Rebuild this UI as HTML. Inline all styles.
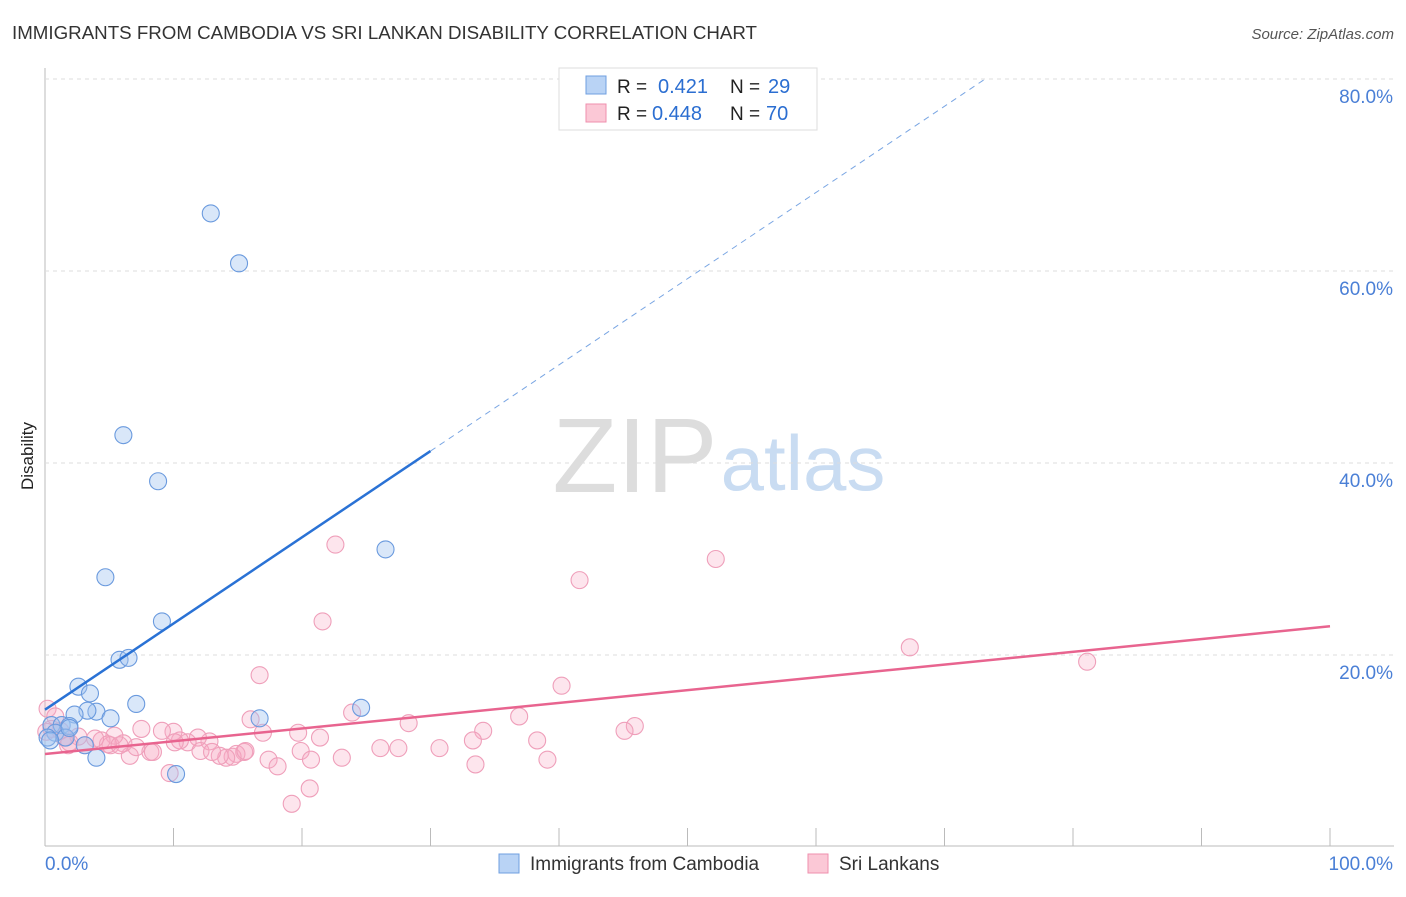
<!DOCTYPE html>
<html><head><meta charset="utf-8"><style>
body{margin:0;background:#fff;font-family:"Liberation Sans",sans-serif}
svg text{font-family:"Liberation Sans",sans-serif}
</style></head><body>
<svg id="c" width="1406" height="892">
<text x="12" y="39" font-size="18" fill="#333" textLength="745" lengthAdjust="spacingAndGlyphs">IMMIGRANTS FROM CAMBODIA VS SRI LANKAN DISABILITY CORRELATION CHART</text>
<text x="1394" y="39" font-size="15" fill="#555" font-style="italic" text-anchor="end">Source: ZipAtlas.com</text>
<text x="33" y="456" font-size="17" fill="#222" transform="rotate(-90 33 456)" text-anchor="middle">Disability</text>
<g><text x="635" y="492" font-size="106" fill="#ddd" font-family="Liberation Serif" text-anchor="middle">ZIP</text><text x="803" y="490" font-size="78" fill="#c9dcf2" text-anchor="middle">atlas</text></g>
<g id="grid"></g><g id="marks"></g>
<g>
<rect x="559" y="68" width="258" height="62" fill="#fff" stroke="#ddd"/>
<rect x="586" y="76" width="20" height="18" fill="#b9d3f5" stroke="#6f9fe0"/>
<rect x="586" y="104" width="20" height="18" fill="#fbc8d6" stroke="#ef8fae"/>
<text x="617" y="93" font-size="19" fill="#222">R =</text><text x="658" y="93" font-size="20" fill="#2b6ed1">0.421</text>
<text x="730" y="93" font-size="19" fill="#222">N =</text><text x="768" y="93" font-size="20" fill="#2b6ed1">29</text>
<text x="617" y="120" font-size="19" fill="#222">R =</text><text x="652" y="120" font-size="20" fill="#2b6ed1">0.448</text>
<text x="730" y="120" font-size="19" fill="#222">N =</text><text x="766" y="120" font-size="20" fill="#2b6ed1">70</text>
</g>
<g>
<rect x="499" y="854" width="20" height="19" fill="#b9d3f5" stroke="#6f9fe0"/>
<text x="530" y="870" font-size="19" fill="#333">Immigrants from Cambodia</text>
<rect x="808" y="854" width="20" height="19" fill="#fbc8d6" stroke="#ef8fae"/>
<text x="839" y="870" font-size="19" fill="#333">Sri Lankans</text>
</g>
</svg>
<script>
const yTicks=[20,40,60,80];
const yTickLabels=["20.0%","40.0%","60.0%","80.0%"];
const xTickLabels=["0.0%","100.0%"];
const blueX=[12.9,15.1,6.1,8.8,4.7,26.5,9.1,5.8,6.5,2.6,3.5,7.1,4.0,3.3,5.1,2.3,16.7,24.6,0.5,1.3,1.9,0.8,1.6,0.2,3.1,4.0,10.2,0.4,1.9];
const blueY=[66,60.8,42.9,38.1,28.1,31,23.5,19.5,19.7,16.7,16.0,14.9,14.1,14.2,13.4,13.8,13.4,14.5,12.7,12.7,12.6,11.9,11.4,11.4,10.6,9.3,7.6,11.1,12.4];
const pinkX=[22.6,52.2,41.6,21.6,67.3,81.1,16.7,40.2,23.9,36.9,28.3,45.9,45.1,34.1,33.3,38.3,27.5,26.1,30.7,16.96,16.0,19.7,21.4,23.1,19.9,20.7,17.4,18.1,39.1,33.5,20.6,19.2,9.7,15.5,14.9,14.6,14.1,13.6,12.8,11.9,11.1,10.5,10.0,9.1,7.5,8.2,8.4,6.6,6.1,5.4,5.1,4.4,4.9,3.9,3.1,2.6,1.9,1.2,0.5,0.2,0.8,0.1,1.5,1.8,5.8,12.1,13.0,10.1,7.1,15.6];
const pinkY=[31.5,30,27.8,23.5,20.8,19.3,17.9,16.8,14.0,13.6,12.9,12.6,12.1,12.1,11.1,11.1,10.3,10.3,10.3,11.9,13.3,11.9,11.4,9.3,10.0,9.1,9.1,8.4,9.1,8.6,6.1,4.5,7.7,9.9,9.7,9.4,9.3,9.5,11.0,11.4,10.9,11.1,12.0,12.1,12.3,9.9,9.9,9.5,10.8,11.6,10.6,11.1,10.7,11.3,10.6,11.5,10.9,12.1,12.3,14.4,13.6,12.0,11.4,10.6,10.6,10.0,9.9,10.9,10.4,10.0];
const blueLine=[14.3,0.898]; // intercept, slope
const pinkLine=[9.69,0.133];
const X=v=>45+v*12.85, Y=v=>847-v*9.6;
const NS="http://www.w3.org/2000/svg";
function mk(t,a,p){const e=document.createElementNS(NS,t);for(const k in a)e.setAttribute(k,a[k]);p.appendChild(e);return e;}
const g=document.getElementById('grid'), m=document.getElementById('marks');
const ax=mk('line',{x1:45,y1:68,x2:45,y2:846,stroke:'#bbb'},g);


const bx=mk('line',{x1:45,y1:846,x2:1394,y2:846,stroke:'#bbb'},g);


yTicks.forEach((t,i)=>{
 const l=mk('line',{x1:45,y1:Y(t),x2:1394,y2:Y(t),stroke:'#ddd','stroke-dasharray':'4,4'},g);
 
 
 const tx=mk('text',{x:1393,y:Y(t)+24,'font-size':19,fill:'#4a7fd6','text-anchor':'end'},g);
 tx.textContent=yTickLabels[i];
 
 
});
for(let i=1;i<=10;i++){const t=mk('line',{x1:X(i*10),y1:828,x2:X(i*10),y2:846,stroke:'#bbb'},g);
 
 }
[[0,45,'start'],[1,1393,'end']].forEach(([i,x,a])=>{const t=mk('text',{x:x,y:870,'font-size':19,fill:'#4a7fd6','text-anchor':a},g);t.textContent=xTickLabels[i];
 
 });
pinkX.forEach((x,i)=>{const c=mk('circle',{cx:X(x),cy:Y(pinkY[i]),r:8.5,fill:'rgba(247,170,195,0.3)',stroke:'#ef9fba','stroke-width':1.1},m);
 
 });
blueX.forEach((x,i)=>{const c=mk('circle',{cx:X(x),cy:Y(blueY[i]),r:8.5,fill:'rgba(160,196,240,0.4)',stroke:'#6a9ade','stroke-width':1.1},m);
 
 });
const pl=mk('line',{x1:X(0),y1:Y(pinkLine[0]),x2:X(100),y2:Y(pinkLine[0]+100*pinkLine[1]),stroke:'#e8648f','stroke-width':2.5},m);


const bl=mk('line',{x1:X(0),y1:Y(blueLine[0]),x2:X(30),y2:Y(blueLine[0]+30*blueLine[1]),stroke:'#2a72d5','stroke-width':2.5},m);


const xe=(80-blueLine[0])/blueLine[1];
const bd=mk('line',{x1:X(30),y1:Y(blueLine[0]+30*blueLine[1]),x2:X(xe),y2:Y(80),stroke:'#7aa6e3','stroke-width':1,'stroke-dasharray':'6,5'},m);


</script>
</body></html>
